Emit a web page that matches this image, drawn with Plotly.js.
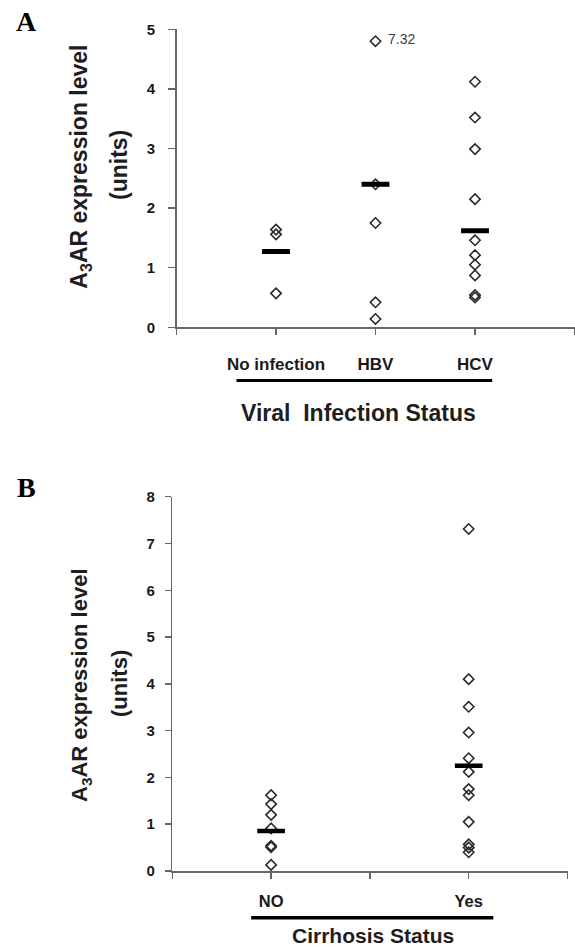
<!DOCTYPE html>
<html>
<head>
<meta charset="utf-8">
<script src="https://cdn.plot.ly/plotly-3.0.1.min.js"></script>
<style>html,body{margin:0;padding:0;background:#fff;}#chart{width:575px;height:950px;}</style>
</head>
<body>
<div id="chart"></div>
<script>
// ---------- data ----------
const catsA = ['No infection', 'HBV', 'HCV'];
const noInfection = [1.64, 1.56, 0.57];
const hbv = [7.32, 2.40, 1.75, 0.42, 0.14];
const hcv = [4.12, 3.52, 2.99, 2.15, 1.46, 1.21, 1.05, 0.87, 0.54, 0.50];
const meanA = [1.27, 2.40, 1.62];

const catsB = ['NO', 'Yes'];
const cirrhosisNo = [1.62, 1.43, 1.20, 0.91, 0.54, 0.51, 0.13];
const cirrhosisYes = [7.31, 4.10, 3.51, 2.96, 2.41, 2.12, 1.75, 1.62, 1.05, 0.57, 0.50, 0.40];
const meanB = [0.855, 2.25];

const yTicksA = [0, 1, 2, 3, 4, 5];
const yTicksB = [0, 1, 2, 3, 4, 5, 6, 7, 8];

// ---------- layout constants ----------
const posA = [1, 2, 3];
const posB = [1, 3];
const capA = 5;          // panel A axis maximum
const offScaleY = 4.8;   // where off-scale values are drawn in panel A
const halfBar = 0.14;

const FONT = 'Liberation Sans, Arial, Helvetica, sans-serif';
const AX = '#666';

const groupsA = [noInfection, hbv, hcv];
const groupsB = [cirrhosisNo, cirrhosisYes];

const marker = {symbol: 'diamond-open', size: 8, color: '#2b2b2b', line: {width: 1.6}};
const traces = [];
const annotations = [];

groupsA.forEach((vals, i) => {
  traces.push({
    type: 'scatter', mode: 'markers', xaxis: 'x', yaxis: 'y',
    x: vals.map(() => posA[i]),
    y: vals.map(v => v > capA ? offScaleY : v),
    marker: marker, showlegend: false, hoverinfo: 'y'
  });
  vals.forEach(v => {
    if (v > capA) {
      annotations.push({
        xref: 'x', yref: 'y', x: posA[i], y: offScaleY, text: v.toFixed(2),
        showarrow: false, xanchor: 'left', yanchor: 'middle', xshift: 10, yshift: 2,
        font: {family: FONT, size: 14, color: '#3a3a3a'}
      });
    }
  });
});
meanA.forEach((m, i) => {
  traces.push({
    type: 'scatter', mode: 'lines', xaxis: 'x', yaxis: 'y',
    x: [posA[i] - halfBar, posA[i] + halfBar], y: [m, m],
    line: {color: '#000', width: 5}, showlegend: false, hoverinfo: 'skip'
  });
});

groupsB.forEach((vals, i) => {
  traces.push({
    type: 'scatter', mode: 'markers', xaxis: 'x2', yaxis: 'y2',
    x: vals.map(() => posB[i]), y: vals,
    marker: marker, showlegend: false, hoverinfo: 'y'
  });
});
meanB.forEach((m, i) => {
  traces.push({
    type: 'scatter', mode: 'lines', xaxis: 'x2', yaxis: 'y2',
    x: [posB[i] - halfBar, posB[i] + halfBar], y: [m, m],
    line: {color: '#000', width: 4.5}, showlegend: false, hoverinfo: 'skip'
  });
});

// titles / labels
const titleFont = (s) => ({family: FONT, size: s, color: '#1e1e1e', weight: 'bold'});
annotations.push(
  {xref: 'paper', yref: 'paper', x: 26/575, y: 1 - 21/950, text: 'A', showarrow: false,
   xanchor: 'center', yanchor: 'middle', font: {family: 'Liberation Serif, Times New Roman, serif', size: 28, color: '#000', weight: 'bold'}},
  {xref: 'paper', yref: 'paper', x: 26/575, y: 1 - 487/950, text: 'B', showarrow: false,
   xanchor: 'center', yanchor: 'middle', font: {family: 'Liberation Serif, Times New Roman, serif', size: 28, color: '#000', weight: 'bold'}},
  {xref: 'paper', yref: 'paper', x: 81/575, y: 1 - 166.7/950, text: 'A<sub>3</sub>AR expression level',
   textangle: -90, showarrow: false, xanchor: 'center', yanchor: 'middle', font: titleFont(23)},
  {xref: 'paper', yref: 'paper', x: 119/575, y: 1 - 165/950, text: '(units)',
   textangle: -90, showarrow: false, xanchor: 'center', yanchor: 'middle', font: titleFont(23)},
  {xref: 'paper', yref: 'paper', x: 81/575, y: 1 - 685/950, text: 'A<sub>3</sub>AR expression level',
   textangle: -90, showarrow: false, xanchor: 'center', yanchor: 'middle', font: titleFont(22)},
  {xref: 'paper', yref: 'paper', x: 119/575, y: 1 - 684/950, text: '(units)',
   textangle: -90, showarrow: false, xanchor: 'center', yanchor: 'middle', font: titleFont(22)},
  {xref: 'paper', yref: 'paper', x: 358/575, y: 1 - 413.3/950, text: 'Viral\u00a0 Infection Status',
   showarrow: false, xanchor: 'center', yanchor: 'middle', font: titleFont(23)},
  {xref: 'paper', yref: 'paper', x: 372.8/575, y: 1 - 935/950, text: 'Cirrhosis Status',
   showarrow: false, xanchor: 'center', yanchor: 'middle', font: titleFont(21)}
);

const shapes = [
  {type: 'line', xref: 'paper', yref: 'paper', x0: 236.5/575, x1: 492.2/575, y0: 1 - 380.5/950, y1: 1 - 380.5/950,
   line: {color: '#000', width: 3}},
  {type: 'line', xref: 'paper', yref: 'paper', x0: 251.2/575, x1: 493.3/575, y0: 1 - 917.7/950, y1: 1 - 917.7/950,
   line: {color: '#000', width: 3.5}}
];

const tickFont = (s) => ({family: FONT, size: s, color: '#1a1a1a', weight: 'bold'});
const baseAxis = {
  showline: true, linecolor: AX, linewidth: 1.5, ticks: 'outside', tickcolor: AX, tickwidth: 1.5,
  showgrid: false, zeroline: false, fixedrange: true
};
const minorTicks = (vals, len) => ({
  tickmode: 'array', tickvals: vals, ticks: 'outside', ticklen: len,
  tickcolor: AX, tickwidth: 1.5, showgrid: false
});

const layout = {
  width: 575, height: 950,
  margin: {l: 0, r: 0, t: 0, b: 0},
  paper_bgcolor: '#fff', plot_bgcolor: '#fff',
  showlegend: false,
  xaxis: Object.assign({}, baseAxis, {
    domain: [176.5/575, 574.5/575], range: [0, 4], anchor: 'y',
    tickmode: 'array', tickvals: posA, ticktext: catsA,
    minor: minorTicks([0, 4], 6),
    ticklen: 6, tickfont: tickFont(17), ticklabelstandoff: 15
  }),
  yaxis: Object.assign({}, baseAxis, {
    domain: [1 - 327.3/950, 1 - 29.3/950], range: [0, capA], anchor: 'x',
    tickmode: 'array', tickvals: yTicksA, ticktext: yTicksA.map(String),
    ticklen: 7, tickfont: tickFont(15), ticklabelstandoff: 10
  }),
  xaxis2: Object.assign({}, baseAxis, {
    domain: [172.3/575, 567.5/575], range: [0, 4], anchor: 'y2',
    tickmode: 'array', tickvals: posB, ticktext: catsB,
    minor: minorTicks([0, 2, 4], 6),
    ticklen: 6, tickfont: tickFont(16.5), ticklabelstandoff: 9
  }),
  yaxis2: Object.assign({}, baseAxis, {
    domain: [1 - 871/950, 1 - 496.7/950], range: [0, 8], anchor: 'x2',
    tickmode: 'array', tickvals: yTicksB, ticktext: yTicksB.map(String),
    ticklen: 6, tickfont: tickFont(15), ticklabelstandoff: 7
  }),
  annotations: annotations,
  shapes: shapes
};

Plotly.newPlot('chart', traces, layout, {displayModeBar: false, staticPlot: true});
</script>
</body>
</html>
